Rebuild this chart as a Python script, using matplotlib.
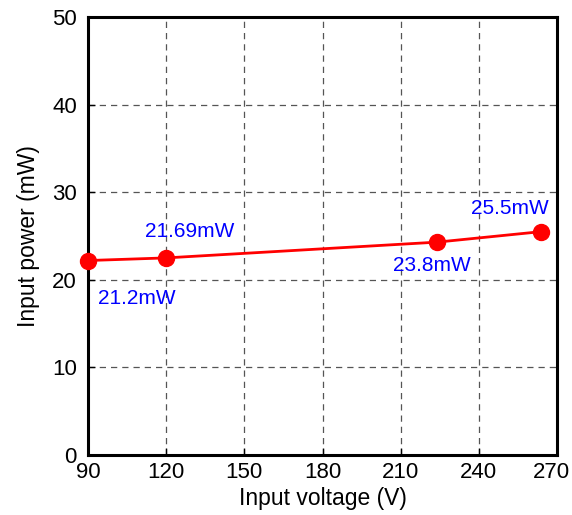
import matplotlib
matplotlib.use("Agg")
import matplotlib.pyplot as plt
from matplotlib.transforms import ScaledTranslation

plt.rcParams['font.family'] = ['Liberation Sans', 'DejaVu Sans']

voltage = [90, 120, 224, 264]
power = [22.2, 22.5, 24.3, 25.5]
labels = ["21.2mW", "21.69mW", "23.8mW", "25.5mW"]
label_offsets = [(35, -27), (17, 19), (-4, -17), (-23, 17)]

fig = plt.figure(figsize=(5.72, 5.15), dpi=100)
ax = fig.add_axes([88 / 572, 1 - 455 / 515, (557 - 88) / 572, (455 - 17) / 515])

ax.plot(voltage, power, color='red', linewidth=2, marker='o', markersize=11.5, clip_on=False, zorder=3)
for x, y, txt, off in zip(voltage, power, labels, label_offsets):
    ax.annotate(txt, (x, y), xytext=off, textcoords='offset points',
                ha='center', va='center', color='#0000ff', fontsize=15)

ax.set_xlim(90, 270)
ax.set_ylim(0, 50)
ax.set_xticks(range(90, 271, 30))
ax.set_yticks(range(0, 51, 10))
ax.grid(True, color='#555555', linestyle=(0, (5, 4)), linewidth=0.9)
ax.tick_params(direction='in', length=5, width=1, labelsize=16)
ax.tick_params(axis='x', pad=5)
ax.tick_params(axis='y', pad=8)
for s in ax.spines.values():
    s.set_linewidth(2.2)
ax.set_xlabel("Input voltage (V)", fontsize=16.5, labelpad=3)
ax.set_ylabel("Input power (mW)", fontsize=16.5, labelpad=9)

# the last x label sits a little left so it fits in the figure
fig.canvas.draw()
last = ax.get_xticklabels()[-1]
last.set_transform(last.get_transform() + ScaledTranslation(-6 / 100, 0, fig.dpi_scale_trans))

fig.savefig("out.png", dpi=100)
